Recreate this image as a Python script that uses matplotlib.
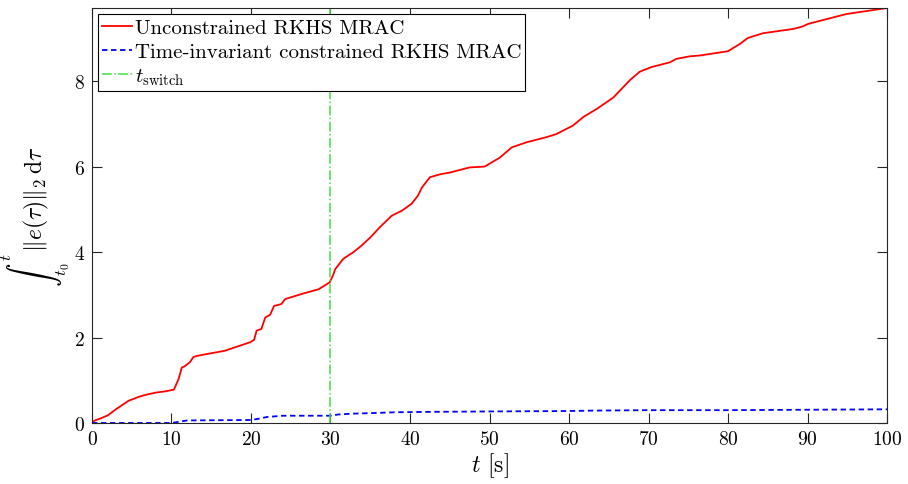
import matplotlib
matplotlib.use("Agg")
import matplotlib.pyplot as plt

plt.rcParams["font.family"] = "serif"
plt.rcParams["font.serif"] = ["cmr10", "DejaVu Serif"]
plt.rcParams["mathtext.fontset"] = "cm"
plt.rcParams["axes.formatter.use_mathtext"] = True

# Integrated tracking error, unconstrained controller
t_unc = [0, 0.5, 1, 2, 3, 4.6, 6, 7, 8, 9.2, 10.3, 10.9, 11.3, 11.6, 12.3, 12.75,
         13.2, 16.7, 19.9, 20.4, 20.7, 21.3, 21.8, 22.4, 22.9, 23.8, 24.3, 26.4,
         28.5, 29.9, 30.3, 30.6, 31.6, 32.9, 33.9, 35.0, 36.2, 37.7, 39.0, 40.2,
         41.0, 41.5, 42.5, 43.8, 45.0, 47.5, 49.4, 51.3, 52.8, 54.7, 57.2, 58.4,
         60.5, 61.8, 63.5, 65.6, 67.7, 68.9, 70.4, 72.7, 73.5, 75.2, 76.5, 80.0,
         81.5, 82.5, 84.4, 88.2, 89.4, 90.1, 94.9, 100]
e_unc = [0.02, 0.07, 0.10, 0.18, 0.32, 0.52, 0.62, 0.67, 0.71, 0.74, 0.78, 1.03,
         1.30, 1.32, 1.42, 1.54, 1.57, 1.69, 1.89, 1.95, 2.16, 2.20, 2.47, 2.53,
         2.74, 2.78, 2.90, 3.02, 3.13, 3.29, 3.45, 3.60, 3.84, 4.00, 4.15, 4.34,
         4.58, 4.85, 4.97, 5.13, 5.32, 5.51, 5.75, 5.82, 5.86, 5.98, 6.00, 6.21,
         6.45, 6.57, 6.69, 6.76, 6.96, 7.16, 7.35, 7.62, 8.03, 8.22, 8.33, 8.44,
         8.52, 8.58, 8.60, 8.70, 8.87, 9.01, 9.12, 9.22, 9.28, 9.34, 9.57, 9.71]

# Integrated tracking error, time-invariant constrained controller
t_con = [0, 10, 11, 12, 20, 21, 22, 24, 30, 31, 33, 35, 38, 42, 50, 60, 63, 70,
         80, 90, 100]
e_con = [0, 0.0, 0.03, 0.06, 0.07, 0.10, 0.14, 0.17, 0.17, 0.20, 0.22, 0.23,
         0.25, 0.26, 0.27, 0.28, 0.29, 0.30, 0.30, 0.31, 0.32]

t_switch = 30

fig = plt.figure(figsize=(9.08, 4.85), dpi=100)
ax = fig.add_axes([0.1013, 0.1258, 0.8756, 0.8556])

ax.plot(t_unc, e_unc, color="red", lw=1.3, label="Unconstrained RKHS MRAC")
ax.plot(t_con, e_con, color="blue", lw=1.3, ls=(0, (3, 2)),
        label="Time-invariant constrained RKHS MRAC")
ax.axvline(t_switch, color="#44e044", lw=1.1, ls="-.",
           label=r"$t_{\mathrm{switch}}$")

ax.set_xlim(0, 100)
ax.set_ylim(0, 9.71)
ax.set_xticks(range(0, 101, 10))
ax.set_yticks([0, 2, 4, 6, 8])

axis_grey = "#262626"
for s in ax.spines.values():
    s.set_color(axis_grey)
    s.set_linewidth(0.8)
ax.tick_params(direction="in", top=True, right=True, length=7, width=0.8,
               colors=axis_grey, labelsize=14, labelcolor="black", pad=5)

ax.set_xlabel(r"$t$ [s]", fontsize=17, labelpad=2)
ax.set_ylabel(r"$\int_{t_0}^{t}\,\|e(\tau)\|_2\,\mathrm{d}\tau$", fontsize=17,
              labelpad=2)

leg = ax.legend(loc="upper left", fontsize=15, frameon=True, fancybox=False,
                edgecolor="black", framealpha=1, borderaxespad=0.3,
                handlelength=1.4, handletextpad=0.15, borderpad=0.2,
                labelspacing=0.25)
leg.get_frame().set_linewidth(0.8)

fig.savefig("out.png", dpi=100)
